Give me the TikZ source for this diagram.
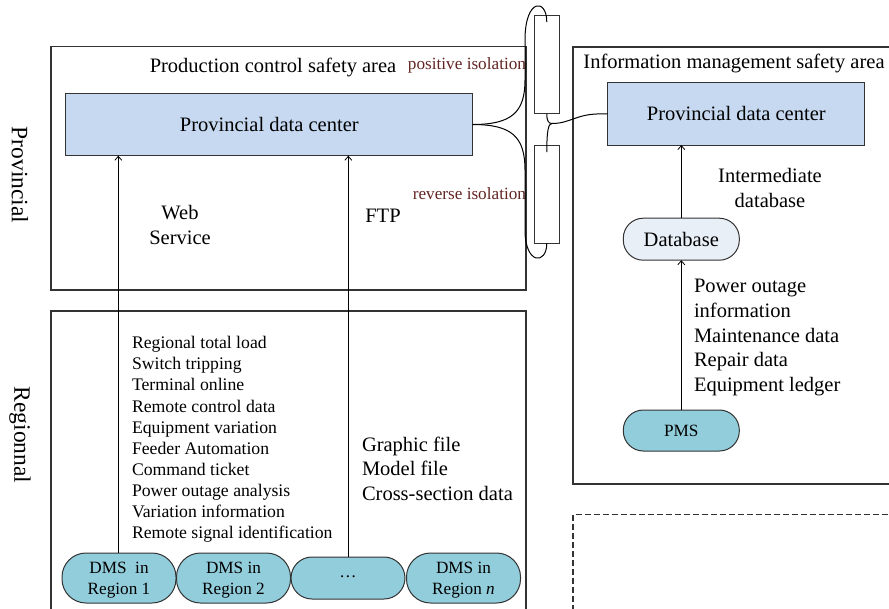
\documentclass[tikz,border=0pt]{standalone}
\usepackage{fontspec}
\setmainfont{Liberation Serif}
\usetikzlibrary{arrows.meta}
\definecolor{pdcblue}{HTML}{C6D9F0}
\definecolor{dmsfill}{HTML}{92CDDC}
\definecolor{dbfill}{HTML}{E9EFF7}
\definecolor{isored}{HTML}{632523}
\definecolor{edgegray}{HTML}{333333}
\newcommand\myfa{\fontsize{20.5}{24.6}\selectfont}
\newcommand\myfb{\fontsize{17.7}{21.1}\selectfont}
\newcommand\myfc{\fontsize{17.2}{21.5}\selectfont}
\newcommand\myfd{\fontsize{23.5}{28}\selectfont}
\newcommand\mystrut{\rule{0pt}{16pt}}
\begin{document}
\begin{tikzpicture}[x=1pt,y=-1pt,
  area/.style={draw=edgegray,line width=1.1pt},
  pdc/.style={draw=edgegray,line width=1pt,fill=pdcblue,inner sep=0,outer sep=0,font=\myfa},
  pill/.style={draw=edgegray,line width=1pt,fill=dmsfill,rounded corners=24pt,inner sep=0,outer sep=0,
               minimum width=114pt,minimum height=50pt,align=center,font=\myfc},
  isobox/.style={draw=edgegray,line width=0.8pt,fill=white,inner sep=0,outer sep=0,minimum width=25pt,minimum height=98pt},
  lbl/.style={inner sep=0,outer sep=0,font=\myfa},
  isolbl/.style={inner sep=0,outer sep=0,font=\fontsize{17.2}{20}\selectfont,text=isored,anchor=east},
  arr/.style={draw=black,line width=0.8pt,-{Straight Barb[length=4pt,width=7pt]}},
  wire/.style={draw=black,line width=1pt}]
\useasboundingbox (0,0) rectangle (889,608);

% safety areas
\draw[area] (51,46.5) rectangle (526,290);
\draw[area] (51,620) |- (526,311) -- (526,620);
\draw[area] (900,484) -| (573,47) -- (900,47);
\draw[area,dashed,dash pattern=on 6pt off 3pt] (573,620) |- (900,514.5);

% vertical labels
\node[lbl,font=\myfd,rotate=-90] (prov) at (20,175) {Provincial};
\node[lbl,font=\myfd,rotate=-90] (regi) at (20,435) {Regionnal};

% area titles
\node[lbl] (pcsa) at (273,67) {Production control safety area};
\node[lbl] (imsa) at (734,63) {Information management safety area};

% data centers
\node[pdc,minimum width=406.7pt,minimum height=62.4pt] (pdcL) at (269.3,124.5) {Provincial data center};
\node[pdc,minimum width=257.3pt,minimum height=62.3pt] (pdcR) at (736.3,113.9) {Provincial data center};

% isolation devices
\node[isobox] (isoT) at (546.8,64.8) {};
\node[isobox] (isoB) at (546.8,194.2) {};
\coordinate (tIn) at (546.8,22);
\coordinate (bIn) at (546.8,152);
\coordinate (J) at (552,123.5);
\node[isolbl] (posl) at (526,65) {positive isolation};
\node[isolbl] (revl) at (526,194) {reverse isolation};

\draw[wire] (pdcL.east) .. controls (512,124.5) and (525,112) .. (525,80) -- (525,40)
  .. controls (525,-2) and (546.8,-2) .. (tIn);
\draw[wire] (pdcL.east) .. controls (512,124.5) and (525,137) .. (525,170) -- (525,230)
  .. controls (525,265) and (546.8,265) .. (isoB.south);
\draw[wire] (isoT.south) .. controls (546.8,121) and (548.5,123.5) .. (J);
\draw[wire] (bIn) .. controls (546.8,130) and (548.5,123.5) .. (J);
\draw[wire] (J) .. controls (570,123.5) and (576,114) .. (600,113.9) -- (pdcR.west);

% regional DMS nodes
\node[pill] (dms1) at (119,578) {\mystrut DMS\ \ in\\Region 1};
\node[pill] (dms2) at (233.5,578) {\mystrut DMS in\\Region 2};
\node[pill,minimum height=42pt,rounded corners=21pt] (dms3) at (348,578) {\raisebox{3pt}{\dots}};
\node[pill] (dms4) at (463.5,578) {\mystrut DMS in\\Region \textit{n}};

\draw[arr] (dms1.north -| 118.3,0) -- (118.3,0 |- pdcL.south);
\draw[arr] (dms3.north -| 348.3,0) -- (348.3,0 |- pdcL.south);

% labels on the left part
\node[lbl,align=center] (websvc) at (180,225) {Web\\Service};
\node[lbl] (ftp) at (383,216) {FTP};
\node[lbl,font=\myfb,align=left,anchor=west] (dmslist) at (132,439.5) {Regional total load\\Switch tripping\\Terminal online\\Remote control data\\Equipment variation\\Feeder Automation\\Command ticket\\Power outage analysis\\Variation information\\Remote signal identification};
\node[lbl,align=left,anchor=west] (files) at (362,468.5) {Graphic file\\Model file\\Cross-section data};

% information management area
\node[pdc,fill=dbfill,rounded corners=20pt,minimum width=116pt,minimum height=42pt] (db) at (681.3,239.2) {Database};
\node[pill,minimum width=116pt,minimum height=41pt,rounded corners=20pt] (pms) at (681.3,430.5) {PMS};
\draw[arr] (pms.north) -- (db.south);
\draw[arr] (db.north) -- (pdcR.south -| db.north);
\node[lbl,align=center] (imdb) at (770,188) {Intermediate\\database};
\node[lbl,align=left,anchor=west,font=\fontsize{20.5}{24.7}\selectfont] (pmslist) at (694,337.5) {Power outage\\information\\Maintenance data\\Repair data\\Equipment ledger};
\end{tikzpicture}
\end{document}
